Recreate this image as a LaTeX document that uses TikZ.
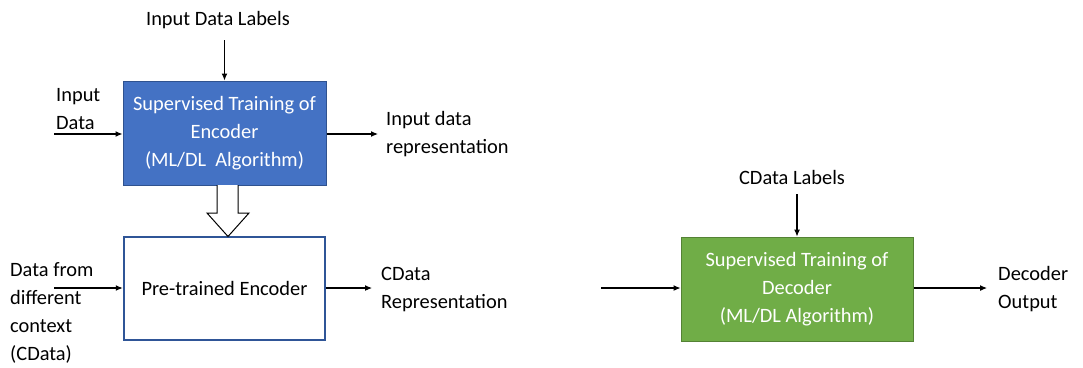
\documentclass[tikz,border=0pt]{standalone}
\usepackage{fontspec}
\setmainfont{Carlito}
\usepackage{xcolor}
\usepackage{tikz}
\usetikzlibrary{positioning,calc,arrows.meta}

\definecolor{encblue}{HTML}{4472C4}
\definecolor{encedge}{HTML}{2F528F}
\definecolor{preedge}{HTML}{2F5597}
\definecolor{decgreen}{HTML}{70AD47}
\definecolor{decedge}{HTML}{548235}

\tikzset{
    flow/.style={-{Latex[length=7pt,width=6pt]}, line width=1.1pt},
    lbl/.style={align=left, anchor=west, inner sep=0pt},
    trainbox/.style={draw, line width=1pt, text=white, align=center, minimum height=104pt},
}

\begin{document}
\begin{tikzpicture}[x=1pt, y=-1pt, font=\fontsize{20.4}{28}\selectfont]
    \useasboundingbox (0,0) rectangle (1083,367);

    % Blocks
    \node[trainbox, fill=encblue, draw=encedge, minimum width=203pt] (enc) at (224.5,133) {Supervised Training of\\Encoder\\(ML/DL\ \ Algorithm)};
    \node[draw=preedge, line width=2.5pt, minimum width=201pt, minimum height=103pt] (pre) at (224.5,288.5) {Pre-trained Encoder};
    \node[trainbox, fill=decgreen, draw=decedge, minimum width=232pt] (dec) at (797,289) {Supervised Training of\\Decoder\\(ML/DL Algorithm)};

    % Labels
    \node (idl) at (218,20) {Input Data Labels};
    \node[lbl] (inp) at (56,109) {Input\\Data};
    \node[lbl] (irep) at (386,134) {Input data\\representation};
    \node[lbl] (cdat) at (10,313) {Data from\\different\\context\\(CData)};
    \node[lbl] (crep) at (381,289.5) {CData\\Representation};
    \node (cdl) at (792,177) {CData Labels};
    \node[lbl] (dout) at (998,289) {Decoder\\Output};

    % Free ends of the connectors
    \coordinate (inpend) at (54,134);
    \coordinate (irepend) at (378,134);
    \coordinate (cdatend) at (54,288);
    \coordinate (crepend) at (372,288);
    \coordinate (decin) at (601,288);
    \coordinate (doutend) at (987,288);

    % Connections
    \draw[flow] (enc.north |- 0,40) -- (enc.north);
    \draw[flow] (inpend) -- (enc.west |- inpend);
    \draw[flow] (enc.east |- irepend) -- (irepend);
    \draw[flow] (cdatend) -- (pre.west |- cdatend);
    \draw[flow] (pre.east |- crepend) -- (crepend);
    \draw[flow] (decin) -- (dec.west |- decin);
    \draw[flow] (dec.north |- 0,194) -- (dec.north);
    \draw[flow] (dec.east |- doutend) -- (doutend);

    % Hollow arrow from encoder to pre-trained encoder
    \draw[line width=1pt, fill=white] (217,185) -- (217,213) -- (207,213) -- (228,236.5)
        -- (249,213) -- (238,213) -- (238,185);
\end{tikzpicture}
\end{document}
